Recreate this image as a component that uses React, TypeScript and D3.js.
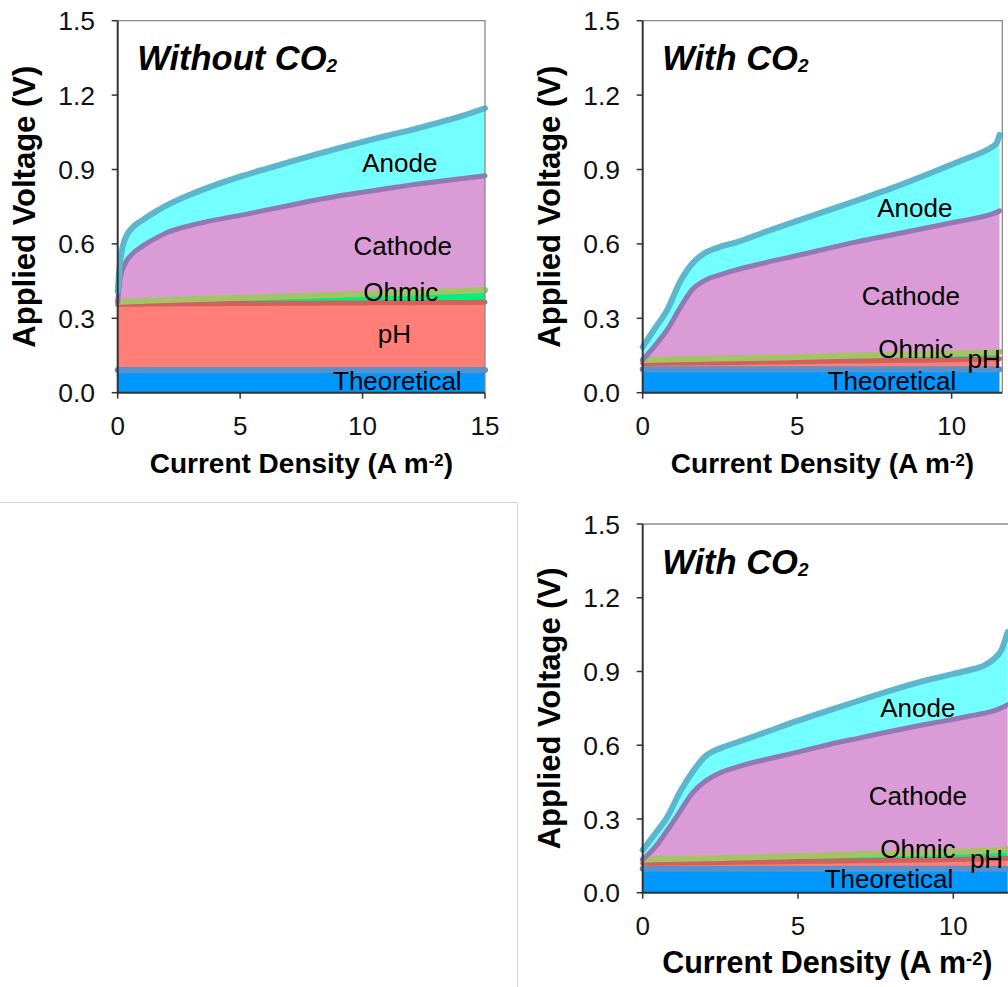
import React from 'react';
import * as d3 from 'd3';

const FONT = '"Liberation Sans", Arial, Helvetica, sans-serif';

const LAYERS = ['Theoretical', 'pH', 'Ohmic', 'Cathode', 'Anode'];
const FILLS = ['#0097FF', '#FF7F78', '#00F07E', '#DA9BD7', '#74FFFF'];
const LINES = ['#5A91C8', '#D0625D', '#A6C266', '#9179B6', '#5CB7CE'];
const LINE_W = [6, 5, 6, 5, 6];

const Y_TICKS = [0, 0.3, 0.6, 0.9, 1.2, 1.5];
const X_TICKS = [0, 5, 10, 15];

// --- Without CO2 (top left), cumulative voltages ---
const TL_X = [0, 0.1, 0.3, 0.6, 1, 1.5, 2, 3, 4, 5, 6, 7, 8, 9, 10, 11, 12, 13, 14, 15];
const TL_THEO = [0.092, 0.092, 0.092, 0.092, 0.092, 0.092, 0.092, 0.092, 0.092, 0.092, 0.092, 0.092, 0.092, 0.092, 0.092, 0.092, 0.092, 0.092, 0.092, 0.092];
const TL_PH = [0.356, 0.356, 0.357, 0.357, 0.357, 0.358, 0.358, 0.359, 0.359, 0.36, 0.36, 0.361, 0.361, 0.362, 0.362, 0.363, 0.363, 0.364, 0.364, 0.365];
const TL_OHMIC = [0.366, 0.367, 0.368, 0.369, 0.37, 0.372, 0.374, 0.377, 0.38, 0.383, 0.386, 0.389, 0.392, 0.395, 0.398, 0.401, 0.404, 0.407, 0.41, 0.414];
const TL_CATHODE = [0.366, 0.46, 0.52, 0.56, 0.59, 0.62, 0.645, 0.675, 0.697, 0.715, 0.735, 0.755, 0.775, 0.793, 0.808, 0.823, 0.838, 0.851, 0.863, 0.875];
const TL_ANODE = [0.41, 0.53, 0.62, 0.665, 0.695, 0.727, 0.755, 0.8, 0.838, 0.871, 0.901, 0.93, 0.958, 0.985, 1.011, 1.036, 1.06, 1.086, 1.114, 1.147];

// --- With CO2 (top right) ---
const TR_X = [0, 0.4, 0.8, 1.2, 1.6, 2, 2.5, 3, 4, 5, 6, 7, 8, 9, 10, 10.5, 11, 11.3, 11.45, 11.55];
const TR_THEO = [0.095, 0.095, 0.095, 0.095, 0.095, 0.095, 0.095, 0.095, 0.095, 0.095, 0.095, 0.095, 0.095, 0.095, 0.095, 0.095, 0.095, 0.095, 0.095, 0.095];
const TR_PH = [0.118, 0.119, 0.119, 0.12, 0.12, 0.121, 0.121, 0.122, 0.124, 0.125, 0.127, 0.128, 0.13, 0.131, 0.133, 0.134, 0.135, 0.136, 0.136, 0.137];
const TR_OHMIC = [0.132, 0.133, 0.134, 0.135, 0.136, 0.137, 0.138, 0.139, 0.141, 0.144, 0.147, 0.15, 0.153, 0.156, 0.159, 0.16, 0.162, 0.163, 0.164, 0.165];
const TR_CATHODE = [0.132, 0.19, 0.255, 0.34, 0.415, 0.452, 0.475, 0.494, 0.525, 0.553, 0.582, 0.61, 0.635, 0.66, 0.685, 0.697, 0.71, 0.72, 0.727, 0.733];
const TR_ANODE = [0.185, 0.26, 0.335, 0.445, 0.52, 0.562, 0.588, 0.605, 0.65, 0.693, 0.735, 0.778, 0.822, 0.87, 0.92, 0.945, 0.97, 0.99, 1.005, 1.04];

// --- With CO2 (bottom right) ---
const BR_X = [0, 0.4, 0.8, 1.2, 1.6, 2, 2.5, 3, 4, 5, 6, 7, 8, 9, 10, 10.5, 11, 11.3, 11.55, 11.75];
const BR_THEO = [0.097, 0.097, 0.097, 0.097, 0.097, 0.097, 0.097, 0.097, 0.097, 0.097, 0.097, 0.097, 0.097, 0.097, 0.097, 0.097, 0.097, 0.097, 0.097, 0.097];
const BR_PH = [0.12, 0.12, 0.121, 0.121, 0.122, 0.122, 0.123, 0.124, 0.125, 0.127, 0.128, 0.13, 0.132, 0.133, 0.135, 0.136, 0.137, 0.138, 0.139, 0.14];
const BR_OHMIC = [0.135, 0.136, 0.137, 0.138, 0.139, 0.14, 0.141, 0.143, 0.146, 0.149, 0.152, 0.156, 0.159, 0.163, 0.166, 0.168, 0.171, 0.173, 0.175, 0.177];
const BR_CATHODE = [0.135, 0.185, 0.255, 0.33, 0.405, 0.452, 0.488, 0.51, 0.543, 0.572, 0.603, 0.63, 0.657, 0.682, 0.705, 0.718, 0.73, 0.74, 0.752, 0.765];
const BR_ANODE = [0.174, 0.24, 0.31, 0.41, 0.49, 0.553, 0.588, 0.61, 0.655, 0.7, 0.742, 0.783, 0.823, 0.86, 0.89, 0.905, 0.925, 0.95, 0.987, 1.06];

// in-plot layer labels: [text, x (A m-2), y (V) baseline]
const TL_LABELS = [['Anode', 11.52, 0.89], ['Cathode', 11.64, 0.555], ['Ohmic', 11.56, 0.371], ['pH', 11.3, 0.2], ['Theoretical', 11.42, 0.011]];
const TR_LABELS = [['Anode', 8.81, 0.71], ['Cathode', 8.68, 0.354], ['Ohmic', 8.84, 0.14], ['pH', 11.05, 0.1], ['Theoretical', 8.07, 0.011]];
const BR_LABELS = [['Anode', 8.86, 0.715], ['Cathode', 8.86, 0.357], ['Ohmic', 8.86, 0.141], ['pH', 11.07, 0.1], ['Theoretical', 7.93, 0.019]];

type Box = { left: number; right: number; top: number; bottom: number };

const Panel = ({ xs, series, box, xMax, title, labels, xTitleSize }: any) => {
  const b: Box = box;
  const x = d3.scaleLinear().domain([0, xMax]).range([b.left, b.right]);
  const y = d3.scaleLinear().domain([0, 1.5]).range([b.bottom, b.top]);
  const idx = xs.map((_: number, i: number) => i);

  const areaFor = (k: number) =>
    d3.area<number>()
      .x(i => x(xs[i]))
      .y0(i => (k === 0 ? y(0) : y(series[k - 1][i])))
      .y1(i => y(series[k][i]))
      .curve(d3.curveMonotoneX)(idx);
  const lineFor = (k: number) =>
    d3.line<number>()
      .x(i => x(xs[i]))
      .y(i => y(series[k][i]))
      .curve(d3.curveMonotoneX)(idx);

  const cx = (b.left + b.right) / 2;
  const cy = (b.top + b.bottom) / 2;

  return (
    <g>
      {series.map((_: number[], k: number) => (
        <path key={'a' + k} d={areaFor(k) || ''} fill={FILLS[k]} stroke="none" />
      ))}
      {series.map((_: number[], k: number) => (
        <path key={'l' + k} d={lineFor(k) || ''} fill="none" stroke={LINES[k]} strokeWidth={LINE_W[k]} strokeLinecap="round" />
      ))}
      {/* frame */}
      <path d={`M${b.left},${b.top}H${b.right}V${b.bottom}`} fill="none" stroke="#8a8a8a" strokeWidth={1.3} />
      <path d={`M${b.left},${b.top}V${b.bottom}H${b.right}`} fill="none" stroke="#333" strokeWidth={2} />
      {/* y axis */}
      {Y_TICKS.map(t => (
        <g key={'y' + t}>
          <line x1={b.left - 6} x2={b.left} y1={y(t)} y2={y(t)} stroke="#333" strokeWidth={1.5} />
          <text x={b.left - 22.7} y={y(t)} dy="0.36em" textAnchor="end" fontSize={26.5} fontFamily={FONT} fill="#111">
            {t.toFixed(1)}
          </text>
        </g>
      ))}
      {/* x axis */}
      {X_TICKS.filter(t => t <= xMax + 0.01).map(t => (
        <g key={'x' + t}>
          <line x1={x(t)} x2={x(t)} y1={b.bottom} y2={b.bottom + 6} stroke="#333" strokeWidth={1.5} />
          <text x={x(t)} y={b.bottom + 42} textAnchor="middle" fontSize={26} fontFamily={FONT} fill="#111">
            {t}
          </text>
        </g>
      ))}
      <text x={cx} y={b.bottom + 80.5} textAnchor="middle" fontSize={xTitleSize} fontWeight="bold" fontFamily={FONT} fill="#000">
        Current Density (A m<tspan dy="-0.45em" fontSize="0.6em">-2</tspan><tspan dy="0.27em">)</tspan>
      </text>
      <text transform={`translate(${b.left - 82.7},${cy}) rotate(-90)`} textAnchor="middle" fontSize={31} fontWeight="bold" fontFamily={FONT} fill="#000">
        Applied Voltage (V)
      </text>
      <text x={b.left + 19.5} y={b.top + 49.5} fontSize={34.5} fontWeight="bold" fontStyle="italic" fontFamily={FONT} fill="#000">
        {title}
        <tspan fontSize="0.55em" dy="0.12em">2</tspan>
      </text>
      {labels.map((l: any[]) => (
        <text key={l[0]} x={x(l[1])} y={y(l[2])} textAnchor="middle" fontSize={26} fontFamily={FONT} fill="#000">
          {l[0]}
        </text>
      ))}
    </g>
  );
};

export default function App() {
  return (
    <svg width={1008} height={987} style={{ position: 'absolute', left: 0, top: 0, background: '#fff' }}>
      <rect x={0} y={0} width={1008} height={987} fill="#fff" />
      <path d="M0,502.5H517.5V987" fill="none" stroke="#d6d6d6" strokeWidth={1} />
      <Panel
        xs={TL_X}
        series={[TL_THEO, TL_PH, TL_OHMIC, TL_CATHODE, TL_ANODE]}
        box={{ left: 117.7, right: 485, top: 20.7, bottom: 392.7 }}
        xMax={15}
        title="Without CO"
        labels={TL_LABELS}
        xTitleSize={28}
      />
      <Panel
        xs={TR_X}
        series={[TR_THEO, TR_PH, TR_OHMIC, TR_CATHODE, TR_ANODE]}
        box={{ left: 642.7, right: 1002.3, top: 20.7, bottom: 392.7 }}
        xMax={11.64}
        title="With CO"
        labels={TR_LABELS}
        xTitleSize={28}
      />
      <Panel
        xs={BR_X}
        series={[BR_THEO, BR_PH, BR_OHMIC, BR_CATHODE, BR_ANODE]}
        box={{ left: 642.7, right: 1012, top: 524, bottom: 892.7 }}
        xMax={11.89}
        title="With CO"
        labels={BR_LABELS}
        xTitleSize={30.5}
      />
    </svg>
  );
}
